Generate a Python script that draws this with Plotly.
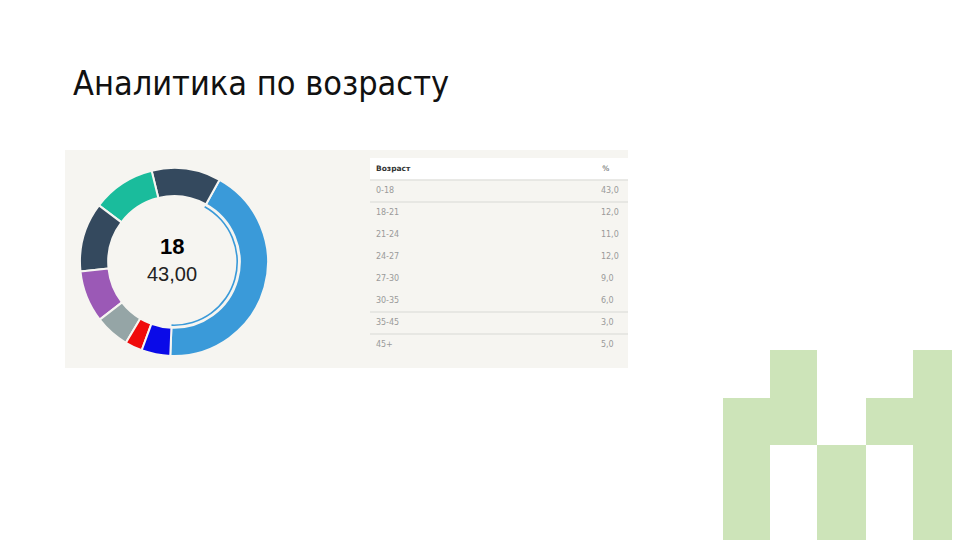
import plotly.graph_objects as go

W, H = 960, 540
OFF = 8  # page body margin of the html page

# ---- data ----
age_groups = ["0-18", "18-21", "21-24", "24-27", "27-30", "30-35", "35-45", "45+"]
percents = [43.0, 12.0, 11.0, 12.0, 9.0, 6.0, 3.0, 5.0]
slice_colors = ["#3a9ad9", "#34495e", "#1abc9c", "#34495e", "#9b59b6", "#95a5a6", "#f00a0a", "#0a0ae8"]
header_labels = ["Возраст", "%"]
title_text = "Аналитика по возрасту"
center_label = "18"
center_value = "43,00"


def px(x):
    return (x - OFF) / W


def py(y):
    return 1 - (y - OFF) / H


def fmt(v, d):
    return f"{v:.{d}f}".replace(".", ",")


fig = go.Figure()

# donut
cx, cy, R = 174, 262, 94
ROT = 29
fig.add_trace(go.Pie(
    labels=age_groups, values=percents, sort=False, direction="counterclockwise",
    rotation=ROT, hole=0.70,
    marker=dict(colors=slice_colors, line=dict(color="#f6f5f1", width=2)),
    textinfo="none", hoverinfo="label+percent", showlegend=False,
    domain=dict(x=[px(cx - R), px(cx + R)], y=[py(cy + R), py(cy - R)]),
))
# thin highlight arc of the selected slice
r2 = 64
hl_colors = [slice_colors[0]] + ["rgba(0,0,0,0)"] * (len(age_groups) - 1)
fig.add_trace(go.Pie(
    labels=age_groups, values=percents, sort=False, direction="counterclockwise",
    rotation=ROT, hole=0.975,
    marker=dict(colors=hl_colors, line=dict(width=0)),
    textinfo="none", hoverinfo="skip", showlegend=False,
    domain=dict(x=[px(cx - r2), px(cx + r2)], y=[py(cy + r2), py(cy - r2)]),
))

# table as text on its own axes
rows_y = list(range(1, len(age_groups) + 1))
fig.add_trace(go.Scatter(
    x=[0.023] + [0.023] * len(age_groups),
    y=[0] + rows_y,
    text=[f"<b>{header_labels[0]}</b>"] + age_groups,
    mode="text", textposition="middle right",
    textfont=dict(family="DejaVu Sans, sans-serif", size=[7.5] + [8] * len(age_groups),
                  color=["#333333"] + ["#9a9a9a"] * len(age_groups)),
    xaxis="x2", yaxis="y2", showlegend=False, hoverinfo="skip",
))
fig.add_trace(go.Scatter(
    x=[0.9] + [0.895] * len(percents),
    y=[0] + rows_y,
    text=[header_labels[1]] + [fmt(v, 1) for v in percents],
    mode="text", textposition="middle right",
    textfont=dict(family="DejaVu Sans, sans-serif", size=[7.5] + [8] * len(percents),
                  color=["#555555"] + ["#9a9a9a"] * len(percents)),
    xaxis="x2", yaxis="y2", showlegend=False, hoverinfo="skip",
))

shapes = []
# panel background
shapes.append(dict(type="rect", xref="paper", yref="paper", x0=px(65), x1=px(628),
                   y0=py(368), y1=py(150), fillcolor="#f6f5f1", line=dict(width=0), layer="below"))
# table header band
shapes.append(dict(type="rect", xref="x2 domain", yref="y2", x0=0, x1=1, y0=-0.5, y1=0.5,
                   fillcolor="#ffffff", line=dict(width=0), layer="below"))
for yl in [0.5, 1.5, 6.5, 7.5]:
    shapes.append(dict(type="line", xref="x2 domain", yref="y2", x0=0, x1=1, y0=yl, y1=yl,
                       line=dict(color="#e2e2de", width=1.5), layer="below"))

# decorative green blocks
green = "#cde4b9"
blocks = [(723, 770, 398, 560), (770, 817, 350, 445), (817, 866, 445, 560),
          (866, 913, 398, 445), (913, 980, 350, 560)]
for x0, x1, y0, y1 in blocks:
    shapes.append(dict(type="rect", xref="paper", yref="paper", x0=px(x0), x1=px(x1),
                       y0=py(y1), y1=py(y0), fillcolor=green, line=dict(width=0), layer="below"))

annotations = [
    dict(text=title_text, xref="paper", yref="paper", x=px(71), y=py(83), xanchor="left",
         yanchor="middle", showarrow=False,
         font=dict(family="Liberation Sans Narrow, Arial Narrow, DejaVu Sans Condensed, sans-serif",
                   size=34, color="#111111")),
    dict(text=f"<b>{center_label}</b>", xref="paper", yref="paper", x=px(172), y=py(246),
         xanchor="center", yanchor="middle", showarrow=False,
         font=dict(family="Liberation Sans, Arial, sans-serif", size=22, color="#000000")),
    dict(text=center_value, xref="paper", yref="paper", x=px(172), y=py(274),
         xanchor="center", yanchor="middle", showarrow=False,
         font=dict(family="Liberation Sans, Arial, sans-serif", size=20, color="#222222")),
]

fig.update_layout(
    width=W, height=H, margin=dict(l=0, r=0, t=0, b=0),
    paper_bgcolor="#ffffff", plot_bgcolor="rgba(0,0,0,0)",
    shapes=shapes, annotations=annotations,
    xaxis2=dict(domain=[px(370), px(628)], range=[0, 1], visible=False, fixedrange=True),
    yaxis2=dict(domain=[py(356), py(158)], range=[8.5, -0.5], visible=False, fixedrange=True,
                anchor="x2"),
    showlegend=False,
)

fig.write_html("out.html")
